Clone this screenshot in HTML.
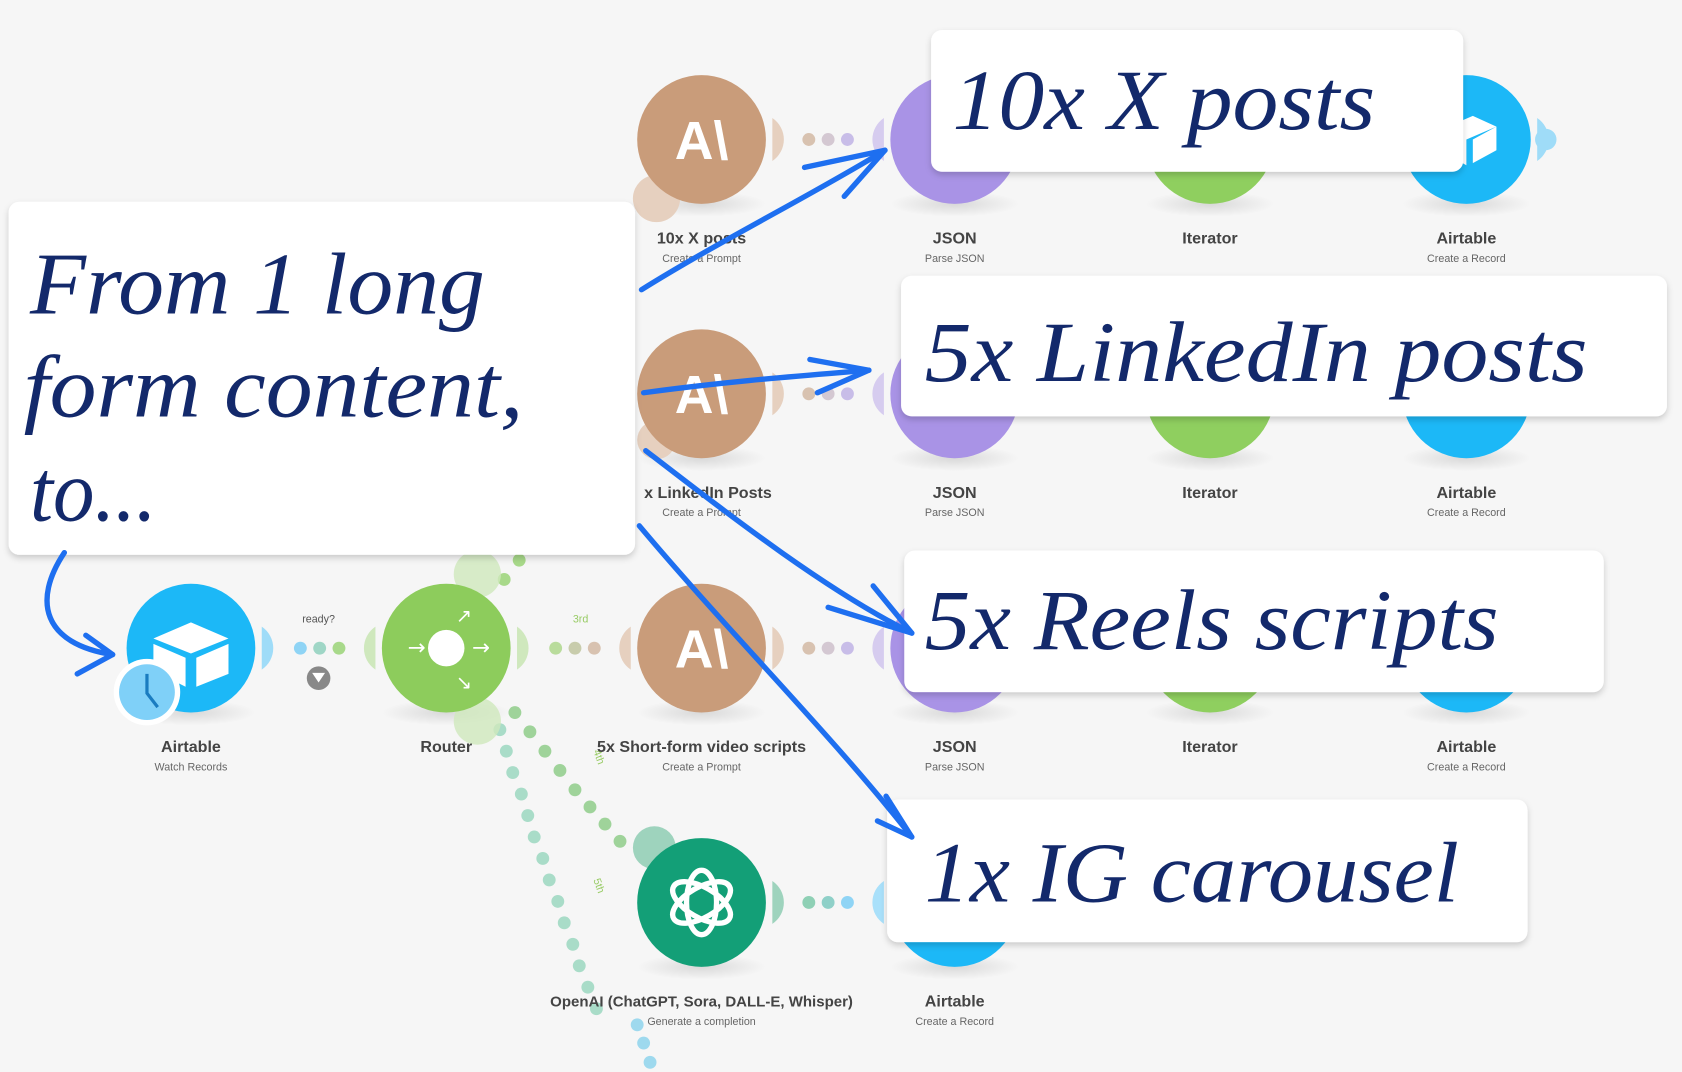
<!DOCTYPE html>
<html><head><meta charset="utf-8"><style>
html,body{margin:0;padding:0;background:#f6f6f6;width:1682px;height:1072px;overflow:hidden}
svg{display:block}
.big{font-family:"Liberation Serif",serif;font-style:italic;fill:#13296b}
.lbl{font-family:"Liberation Sans",sans-serif;font-weight:bold;font-size:15px;fill:#444;text-anchor:middle}
.sub{font-family:"Liberation Sans",sans-serif;font-size:10px;fill:#666;text-anchor:middle}
.num{font-family:"Liberation Sans",sans-serif;font-size:10px;fill:#aaa}
.ai{font-family:"Liberation Sans",sans-serif;font-weight:bold;font-size:50px;fill:#fff;text-anchor:middle}
</style></head><body>
<svg width="1682" height="1072" viewBox="0 0 1568 999" preserveAspectRatio="none">
<defs>
<filter id="sh" x="-10%" y="-10%" width="120%" height="130%"><feDropShadow dx="0" dy="3" stdDeviation="3" flood-color="#000" flood-opacity="0.18"/></filter>
<radialGradient id="gs"><stop offset="0" stop-color="#000" stop-opacity="0.12"/><stop offset="1" stop-color="#000" stop-opacity="0"/></radialGradient>
</defs>
<rect width="1568" height="999" fill="#f6f6f6"/>

<g fill="#a8d98a">
<circle cx="470" cy="540" r="6"/><circle cx="484" cy="522" r="6"/><circle cx="496" cy="504" r="6"/>
</g>
<g fill="#9fd39a">
<circle cx="480" cy="664" r="6"/><circle cx="494" cy="682" r="6"/><circle cx="508" cy="700" r="6"/><circle cx="522" cy="718" r="6"/><circle cx="536" cy="736" r="6"/><circle cx="550" cy="752" r="6"/><circle cx="564" cy="768" r="6"/><circle cx="578" cy="784" r="6"/>
</g>
<g fill="#a9dcc8">
<circle cx="466" cy="680" r="6"/><circle cx="472" cy="700" r="6"/><circle cx="478" cy="720" r="6"/><circle cx="486" cy="740" r="6"/><circle cx="492" cy="760" r="6"/><circle cx="498" cy="780" r="6"/><circle cx="506" cy="800" r="6"/><circle cx="512" cy="820" r="6"/><circle cx="520" cy="840" r="6"/><circle cx="526" cy="860" r="6"/><circle cx="534" cy="880" r="6"/><circle cx="540" cy="900" r="6"/><circle cx="548" cy="920" r="6"/><circle cx="556" cy="940" r="6"/><circle cx="594" cy="955" r="6" fill="#9ed9ee"/><circle cx="600" cy="972" r="6" fill="#9ed9ee"/><circle cx="606" cy="990" r="6" fill="#9ed9ee"/>
</g>
<text x="553" y="700" class="num" style="fill:#9c6" transform="rotate(70 553 700)">4th</text>
<text x="553" y="820" class="num" style="fill:#9c6" transform="rotate(70 553 820)">5th</text>
<text x="534" y="580" class="num" style="fill:#9c6">3rd</text>
<text x="297" y="580" class="num" style="fill:#555;text-anchor:middle">ready?</text>
<circle cx="297" cy="632" r="11" fill="#888"/><path d="M291 627h12l-6 9z" fill="#fff"/>

<g>
<circle cx="754" cy="130" r="6" fill="#d8c2b0"/><circle cx="772" cy="130" r="6" fill="#d4c8d2"/><circle cx="790" cy="130" r="6" fill="#c8bde8"/>
<circle cx="754" cy="367" r="6" fill="#d8c2b0"/><circle cx="772" cy="367" r="6" fill="#d4c8d2"/><circle cx="790" cy="367" r="6" fill="#c8bde8"/>
<circle cx="754" cy="604" r="6" fill="#d8c2b0"/><circle cx="772" cy="604" r="6" fill="#d4c8d2"/><circle cx="790" cy="604" r="6" fill="#c8bde8"/>
<circle cx="518" cy="604" r="6" fill="#b9dc9c"/><circle cx="536" cy="604" r="6" fill="#c8ccac"/><circle cx="554" cy="604" r="6" fill="#d8c2b0"/>
<circle cx="280" cy="604" r="6" fill="#8fd4f5"/><circle cx="298" cy="604" r="6" fill="#9fd6c6"/><circle cx="316" cy="604" r="6" fill="#a8d98a"/>
<circle cx="754" cy="841" r="6" fill="#8fd0b5"/><circle cx="772" cy="841" r="6" fill="#8fd0c8"/><circle cx="790" cy="841" r="6" fill="#8fd4f5"/>
</g>

<g>
<g fill="url(#gs)">
<ellipse cx="654" cy="190" rx="60" ry="12"/><ellipse cx="890" cy="190" rx="60" ry="12"/><ellipse cx="1128" cy="190" rx="60" ry="12"/><ellipse cx="1367" cy="190" rx="60" ry="12"/>
<ellipse cx="654" cy="427" rx="60" ry="12"/><ellipse cx="890" cy="427" rx="60" ry="12"/><ellipse cx="1128" cy="427" rx="60" ry="12"/><ellipse cx="1367" cy="427" rx="60" ry="12"/>
<ellipse cx="178" cy="664" rx="60" ry="12"/><ellipse cx="416" cy="664" rx="60" ry="12"/><ellipse cx="654" cy="664" rx="60" ry="12"/><ellipse cx="890" cy="664" rx="60" ry="12"/><ellipse cx="1128" cy="664" rx="60" ry="12"/><ellipse cx="1367" cy="664" rx="60" ry="12"/>
<ellipse cx="654" cy="901" rx="60" ry="12"/><ellipse cx="890" cy="901" rx="60" ry="12"/>
</g>
<g>
<path d="M720 110a24 24 0 0 1 0 40z" fill="#e6d0bf"/><path d="M720 347a24 24 0 0 1 0 40z" fill="#e6d0bf"/><path d="M720 584a24 24 0 0 1 0 40z" fill="#e6d0bf"/><path d="M588 584a24 24 0 0 0 0 40z" fill="#e6d0bf"/>
<path d="M824 110a24 24 0 0 0 0 40z" fill="#d6ccef"/><path d="M824 347a24 24 0 0 0 0 40z" fill="#d6ccef"/><path d="M824 584a24 24 0 0 0 0 40z" fill="#d6ccef"/><path d="M824 821a24 24 0 0 0 0 40z" fill="#a9e0fa"/>
<path d="M244 584a24 24 0 0 1 0 40z" fill="#9fdcf8"/><path d="M350 584a24 24 0 0 0 0 40z" fill="#cfe8bd"/><path d="M482 584a24 24 0 0 1 0 40z" fill="#cfe8bd"/>
<path d="M720 821a24 24 0 0 1 0 40z" fill="#9ed3bd"/>
<path d="M1433 110a24 24 0 0 1 0 40z" fill="#9fdcf8"/><circle cx="1441" cy="130" r="10" fill="#9fdcf8"/>
<circle cx="445" cy="535" r="22" fill="#cfe8bd" opacity="0.8"/><circle cx="445" cy="672" r="22" fill="#cfe8bd" opacity="0.8"/>
<circle cx="612" cy="185" r="22" fill="#e6d0bf"/><circle cx="612" cy="410" r="18" fill="#e6d0bf"/>
<circle cx="610" cy="790" r="20" fill="#9ed3bd"/>
</g>
<g>
<circle cx="654" cy="130" r="60" fill="#c99c7a"/><text x="654" y="148" class="ai">A\</text>
<circle cx="890" cy="130" r="60" fill="#a993e6"/>
<circle cx="1128" cy="130" r="60" fill="#8fcf5f"/>
<circle cx="1367" cy="130" r="60" fill="#1cb8f7"/><path d="M1345 120l28-12 22 10-28 12z M1345 120v22l22 12v-24z M1373 130l22-12v22l-22 12z" fill="#fff"/>
<circle cx="654" cy="367" r="60" fill="#c99c7a"/><text x="654" y="385" class="ai">A\</text>
<circle cx="890" cy="367" r="60" fill="#a993e6"/>
<circle cx="1128" cy="367" r="60" fill="#8fcf5f"/>
<circle cx="1367" cy="367" r="60" fill="#1cb8f7"/>
<circle cx="178" cy="604" r="60" fill="#1cb8f7"/><path d="M143 595l35-15 35 15-35 14z" fill="#fff"/><path d="M143 600v25l30 15v-27z" fill="#fff"/><path d="M183 613l30-13v28l-30 12z" fill="#fff"/>
<circle cx="137" cy="645" r="31" fill="#fff"/><circle cx="137" cy="645" r="26" fill="#7fd0f8"/><path d="M137 628v18l10 13" stroke="#1a7cc0" stroke-width="3" fill="none"/>
<circle cx="416" cy="604" r="60" fill="#8dcc5c"/><circle cx="416" cy="604" r="17" fill="#fff"/>
<text x="380" y="610" style="font:20px 'DejaVu Sans';fill:#fff">→</text><text x="440" y="610" style="font:20px 'DejaVu Sans';fill:#fff">→</text><text x="425" y="580" style="font:18px 'DejaVu Sans';fill:#fff">↗</text><text x="425" y="642" style="font:18px 'DejaVu Sans';fill:#fff">↘</text>
<circle cx="654" cy="604" r="60" fill="#c99c7a"/><text x="654" y="622" class="ai">A\</text>
<circle cx="890" cy="604" r="60" fill="#a993e6"/>
<circle cx="1128" cy="604" r="60" fill="#8fcf5f"/>
<circle cx="1367" cy="604" r="60" fill="#1cb8f7"/>
<circle cx="654" cy="841" r="60" fill="#139f77"/>
<g fill="none" stroke="#fff" stroke-width="5"><ellipse cx="654" cy="841" rx="14" ry="30"/><ellipse cx="654" cy="841" rx="14" ry="30" transform="rotate(60 654 841)"/><ellipse cx="654" cy="841" rx="14" ry="30" transform="rotate(-60 654 841)"/></g>
<circle cx="890" cy="841" r="60" fill="#1cb8f7"/>
</g>
<g>
<text x="654" y="227" class="lbl">10x X posts</text><text x="654" y="244" class="sub">Create a Prompt</text>
<text x="890" y="227" class="lbl">JSON</text><text x="890" y="244" class="sub">Parse JSON</text>
<text x="1128" y="227" class="lbl">Iterator</text>
<text x="1367" y="227" class="lbl">Airtable</text><text x="1367" y="244" class="sub">Create a Record</text>
<text x="660" y="464" class="lbl">x LinkedIn Posts</text><text x="654" y="481" class="sub">Create a Prompt</text>
<text x="890" y="464" class="lbl">JSON</text><text x="890" y="481" class="sub">Parse JSON</text>
<text x="1128" y="464" class="lbl">Iterator</text>
<text x="1367" y="464" class="lbl">Airtable</text><text x="1367" y="481" class="sub">Create a Record</text>
<text x="178" y="701" class="lbl">Airtable</text><text x="178" y="718" class="sub">Watch Records</text>
<text x="416" y="701" class="lbl">Router</text>
<text x="654" y="701" class="lbl">5x Short-form video scripts</text><text x="654" y="718" class="sub">Create a Prompt</text>
<text x="890" y="701" class="lbl">JSON</text><text x="890" y="718" class="sub">Parse JSON</text>
<text x="1128" y="701" class="lbl">Iterator</text>
<text x="1367" y="701" class="lbl">Airtable</text><text x="1367" y="718" class="sub">Create a Record</text>
<text x="654" y="938" class="lbl" style="font-size:14px">OpenAI (ChatGPT, Sora, DALL-E, Whisper)</text><text x="654" y="955" class="sub">Generate a completion</text>
<text x="890" y="938" class="lbl">Airtable</text><text x="890" y="955" class="sub">Create a Record</text>
</g>
</g>

<g filter="url(#sh)" fill="#fff">
<rect x="8" y="188" width="584" height="329" rx="10"/>
<rect x="868" y="28" width="496" height="132" rx="10"/>
<rect x="840" y="257" width="714" height="131" rx="10"/>
<rect x="843" y="513" width="652" height="132" rx="10"/>
<rect x="827" y="745" width="597" height="133" rx="10"/>
</g>
<text x="28" y="292" class="big" font-size="82" textLength="424" lengthAdjust="spacingAndGlyphs">From 1 long</text>
<text x="22" y="388" class="big" font-size="82" textLength="466" lengthAdjust="spacingAndGlyphs">form content,</text>
<text x="28" y="485" class="big" font-size="82" textLength="118" lengthAdjust="spacingAndGlyphs">to...</text>
<text x="888" y="120" class="big" font-size="80" textLength="394" lengthAdjust="spacingAndGlyphs">10x X posts</text>
<text x="862" y="355" class="big" font-size="80" textLength="618" lengthAdjust="spacingAndGlyphs">5x LinkedIn posts</text>
<text x="862" y="605" class="big" font-size="80" textLength="535" lengthAdjust="spacingAndGlyphs">5x Reels scripts</text>
<text x="862" y="840" class="big" font-size="80" textLength="498" lengthAdjust="spacingAndGlyphs">1x IG carousel</text>

<g fill="none" stroke="#1e6ff0" stroke-width="5" stroke-linecap="round" stroke-linejoin="round">
<path d="M598 270C670 225 760 180 825 140"/><path d="M750 156L825 140L787 183"/>
<path d="M600 366C680 355 750 350 810 345"/><path d="M755 335L810 345L762 366"/>
<path d="M602 420C680 480 770 550 850 590"/><path d="M772 566L850 590L814 546"/>
<path d="M596 490C680 590 780 690 850 780"/><path d="M826 742L850 780L818 765"/>
<path d="M60 515C30 560 40 600 105 610"/><path d="M80 592L105 610L72 628"/>
</g>
</svg>
</body></html>
